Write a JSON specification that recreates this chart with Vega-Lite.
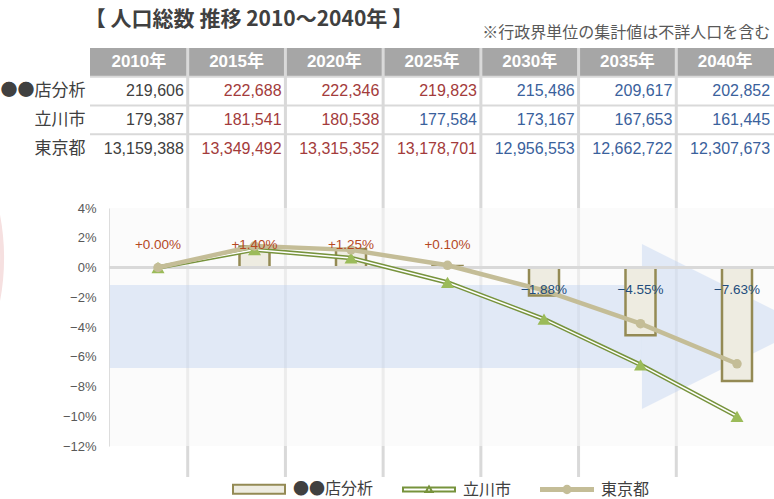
{
  "$schema": "https://vega.github.io/schema/vega-lite/v6.json",
  "width": 774,
  "height": 499,
  "autosize": {"type": "none"},
  "padding": 0,
  "background": "white",
  "config": {"view": {"stroke": null}, "font": "Noto Sans CJK JP"},
  "datasets": {
    "pop": [
      {"series": "●●店分析", "year": 2010, "pop": 219606, "pct": 0},
      {"series": "●●店分析", "year": 2015, "pop": 222688, "pct": 0.014034},
      {"series": "●●店分析", "year": 2020, "pop": 222346, "pct": 0.012477},
      {"series": "●●店分析", "year": 2025, "pop": 219823, "pct": 0.000988},
      {"series": "●●店分析", "year": 2030, "pop": 215486, "pct": -0.018761},
      {"series": "●●店分析", "year": 2035, "pop": 209617, "pct": -0.045486},
      {"series": "●●店分析", "year": 2040, "pop": 202852, "pct": -0.076291},
      {"series": "立川市", "year": 2010, "pop": 179387, "pct": 0},
      {"series": "立川市", "year": 2015, "pop": 181541, "pct": 0.012008},
      {"series": "立川市", "year": 2020, "pop": 180538, "pct": 0.006416},
      {"series": "立川市", "year": 2025, "pop": 177584, "pct": -0.010051},
      {"series": "立川市", "year": 2030, "pop": 173167, "pct": -0.034674},
      {"series": "立川市", "year": 2035, "pop": 167653, "pct": -0.065412},
      {"series": "立川市", "year": 2040, "pop": 161445, "pct": -0.100018},
      {"series": "東京都", "year": 2010, "pop": 13159388, "pct": 0},
      {"series": "東京都", "year": 2015, "pop": 13349492, "pct": 0.014446},
      {"series": "東京都", "year": 2020, "pop": 13315352, "pct": 0.011852},
      {"series": "東京都", "year": 2025, "pop": 13178701, "pct": 0.001468},
      {"series": "東京都", "year": 2030, "pop": 12956553, "pct": -0.015414},
      {"series": "東京都", "year": 2035, "pop": 12662722, "pct": -0.037743},
      {"series": "東京都", "year": 2040, "pop": 12307673, "pct": -0.064723}
    ],
    "header": [
      {"year": 2010, "label": "2010年"},
      {"year": 2015, "label": "2015年"},
      {"year": 2020, "label": "2020年"},
      {"year": 2025, "label": "2025年"},
      {"year": 2030, "label": "2030年"},
      {"year": 2035, "label": "2035年"},
      {"year": 2040, "label": "2040年"}
    ],
    "titles": [
      {"title": "【 人口総数 推移 2010〜2040年 】", "note": "※行政界単位の集計値は不詳人口を含む"}
    ]
  },
  "layer": [
    {
      "layer": [
        {
          "data": {"name": "header"},
          "mark": {"type": "rect", "fill": "#a6a6a6"},
          "encoding": {
            "x": {"field": "year", "type": "ordinal", "scale": {"domain": [2010, 2015, 2020, 2025, 2030, 2035, 2040], "range": [90, 774], "paddingInner": 0, "paddingOuter": 0}, "axis": null},
            "y": {"datum": "header", "type": "nominal", "scale": {"domain": ["header", "●●店分析", "立川市", "東京都"], "range": [48, 163], "paddingInner": 0, "paddingOuter": 0},
              "axis": {"orient": "left", "offset": -90, "labelPadding": 5, "domain": false, "ticks": false, "grid": false, "title": null, "labelFont": "Noto Sans CJK JP", "labelFontSize": 17, "labelColor": "#404040", "labelExpr": "datum.value == 'header' ? '' : datum.value"}}
          }
        },
        {
          "data": {"name": "header"},
          "mark": {"type": "text", "color": "white", "fontWeight": "bold", "fontSize": 17, "font": "Liberation Sans, Noto Sans CJK JP", "baseline": "middle"},
          "encoding": {
            "x": {"field": "year", "type": "ordinal", "scale": {"domain": [2010, 2015, 2020, 2025, 2030, 2035, 2040], "range": [90, 774], "paddingInner": 0, "paddingOuter": 0}, "axis": null},
            "y": {"datum": "header", "type": "nominal", "scale": {"domain": ["header", "●●店分析", "立川市", "東京都"], "range": [48, 163], "paddingInner": 0, "paddingOuter": 0},
              "axis": {"orient": "left", "offset": -90, "labelPadding": 5, "domain": false, "ticks": false, "grid": false, "title": null, "labelFont": "Noto Sans CJK JP", "labelFontSize": 17, "labelColor": "#404040", "labelExpr": "datum.value == 'header' ? '' : datum.value"}},
            "text": {"field": "label"}
          }
        },
        {
          "data": {"name": "pop"},
          "mark": {"type": "text", "align": "right", "dx": 45, "fontSize": 16, "font": "Liberation Sans", "baseline": "middle"},
          "encoding": {
            "x": {"field": "year", "type": "ordinal", "scale": {"domain": [2010, 2015, 2020, 2025, 2030, 2035, 2040], "range": [90, 774], "paddingInner": 0, "paddingOuter": 0}, "axis": null},
            "y": {"field": "series", "type": "nominal", "scale": {"domain": ["header", "●●店分析", "立川市", "東京都"], "range": [48, 163], "paddingInner": 0, "paddingOuter": 0},
              "axis": {"orient": "left", "offset": -90, "labelPadding": 5, "domain": false, "ticks": false, "grid": false, "title": null, "labelFont": "Noto Sans CJK JP", "labelFontSize": 17, "labelColor": "#404040", "labelExpr": "datum.value == 'header' ? '' : datum.value"}},
            "text": {"field": "pop", "format": ",d"},
            "color": {"condition": [{"test": "datum.pct > 0", "value": "#a33b3b"}, {"test": "datum.pct < 0", "value": "#3a619c"}], "value": "#404040"}
          }
        },
        {
          "data": {"name": "titles"},
          "mark": {"type": "text", "align": "left", "dx": -54, "dy": -42, "fontSize": 21, "fontWeight": "bold", "color": "#404040", "font": "Noto Sans CJK JP", "baseline": "middle"},
          "encoding": {
            "x": {"datum": 2010, "type": "ordinal", "scale": {"domain": [2010, 2015, 2020, 2025, 2030, 2035, 2040], "range": [90, 774], "paddingInner": 0, "paddingOuter": 0}, "axis": null},
            "y": {"datum": "header", "type": "nominal", "scale": {"domain": ["header", "●●店分析", "立川市", "東京都"], "range": [48, 163], "paddingInner": 0, "paddingOuter": 0},
              "axis": {"orient": "left", "offset": -90, "labelPadding": 5, "domain": false, "ticks": false, "grid": false, "title": null, "labelFont": "Noto Sans CJK JP", "labelFontSize": 17, "labelColor": "#404040", "labelExpr": "datum.value == 'header' ? '' : datum.value"}},
            "text": {"field": "title"}
          }
        },
        {
          "data": {"name": "titles"},
          "mark": {"type": "text", "align": "right", "dx": 45, "dy": -29, "fontSize": 16, "color": "#595959", "font": "Noto Sans CJK JP", "baseline": "middle"},
          "encoding": {
            "x": {"datum": 2040, "type": "ordinal", "scale": {"domain": [2010, 2015, 2020, 2025, 2030, 2035, 2040], "range": [90, 774], "paddingInner": 0, "paddingOuter": 0}, "axis": null},
            "y": {"datum": "header", "type": "nominal", "scale": {"domain": ["header", "●●店分析", "立川市", "東京都"], "range": [48, 163], "paddingInner": 0, "paddingOuter": 0},
              "axis": {"orient": "left", "offset": -90, "labelPadding": 5, "domain": false, "ticks": false, "grid": false, "title": null, "labelFont": "Noto Sans CJK JP", "labelFontSize": 17, "labelColor": "#404040", "labelExpr": "datum.value == 'header' ? '' : datum.value"}},
            "text": {"field": "note"}
          }
        }
      ]
    },
    {
      "layer": [
        {
          "data": {"name": "header"},
          "transform": [{"filter": "datum.year > 2010"}],
          "mark": {"type": "rule", "color": "#d9d9d9", "strokeWidth": 3},
          "encoding": {
            "x": {"field": "year", "type": "quantitative", "scale": {"domain": [2010, 2045], "range": [90, 774], "nice": false, "zero": false, "padding": 0}, "axis": null},
            "y": {"datum": 0, "type": "quantitative", "scale": {"domain": [0, 4], "range": [48, 163], "nice": false, "zero": false, "padding": 0}, "axis": null},
            "y2": {"datum": 14.92}
          }
        },
        {
          "data": {"values": [{}]},
          "mark": {"type": "rule", "color": "#d9d9d9", "strokeWidth": 2},
          "encoding": {
            "x": {"datum": 2010, "type": "quantitative", "scale": {"domain": [2010, 2045], "range": [90, 774], "nice": false, "zero": false, "padding": 0}, "axis": null},
            "x2": {"datum": 2045},
            "y": {"datum": 1, "type": "quantitative", "scale": {"domain": [0, 4], "range": [48, 163], "nice": false, "zero": false, "padding": 0}, "axis": null}
          }
        },
        {
          "data": {"values": [{}]},
          "mark": {"type": "rule", "color": "#d9d9d9", "strokeWidth": 2},
          "encoding": {
            "x": {"datum": 2010, "type": "quantitative", "scale": {"domain": [2010, 2045], "range": [90, 774], "nice": false, "zero": false, "padding": 0}, "axis": null},
            "x2": {"datum": 2045},
            "y": {"datum": 2, "type": "quantitative", "scale": {"domain": [0, 4], "range": [48, 163], "nice": false, "zero": false, "padding": 0}, "axis": null}
          }
        },
        {
          "data": {"values": [{}]},
          "mark": {"type": "rule", "color": "#d9d9d9", "strokeWidth": 2},
          "encoding": {
            "x": {"datum": 2010, "type": "quantitative", "scale": {"domain": [2010, 2045], "range": [90, 774], "nice": false, "zero": false, "padding": 0}, "axis": null},
            "x2": {"datum": 2045},
            "y": {"datum": 3, "type": "quantitative", "scale": {"domain": [0, 4], "range": [48, 163], "nice": false, "zero": false, "padding": 0}, "axis": null}
          }
        }
      ]
    },
    {
      "layer": [
        {
          "data": {"values": [{}]},
          "mark": {"type": "point", "shape": "circle", "size": 206116, "filled": false, "stroke": "#f6e0e0", "strokeWidth": 4, "opacity": 1},
          "encoding": {
            "x": {"datum": 1990.16, "type": "quantitative", "scale": {"domain": [2010, 2040], "range": [158, 737], "nice": false, "zero": false, "padding": 0}, "axis": null},
            "y": {"datum": 0.0064, "type": "quantitative", "scale": {"domain": [-0.12, 0.04], "range": [446, 208], "nice": false, "zero": false, "padding": 0},
              "axis": {"orient": "left", "offset": -109, "values": [-0.12, -0.1, -0.08, -0.06, -0.04, -0.02, 0, 0.02, 0.04], "format": ".0%", "ticks": false, "grid": false, "domain": true, "domainColor": "#d9d9d9", "domainWidth": 1, "labelPadding": 13, "labelFont": "Liberation Sans", "labelFontSize": 13, "labelColor": "#595959", "title": null}}
          }
        },
        {
          "data": {"values": [{}]},
          "mark": {"type": "rect", "fill": "#f8f8f8", "opacity": 0.6},
          "encoding": {
            "x": {"datum": 2007.5, "type": "quantitative", "scale": {"domain": [2010, 2040], "range": [158, 737], "nice": false, "zero": false, "padding": 0}, "axis": null},
            "x2": {"datum": 2045},
            "y": {"datum": 0.04, "type": "quantitative", "scale": {"domain": [-0.12, 0.04], "range": [446, 208], "nice": false, "zero": false, "padding": 0},
              "axis": {"orient": "left", "offset": -109, "values": [-0.12, -0.1, -0.08, -0.06, -0.04, -0.02, 0, 0.02, 0.04], "format": ".0%", "ticks": false, "grid": false, "domain": true, "domainColor": "#d9d9d9", "domainWidth": 1, "labelPadding": 13, "labelFont": "Liberation Sans", "labelFontSize": 13, "labelColor": "#595959", "title": null}},
            "y2": {"datum": -0.12}
          }
        },
        {
          "data": {"values": [{}]},
          "mark": {"type": "rect", "fill": "#bccff0", "opacity": 0.4},
          "encoding": {
            "x": {"datum": 2007.5, "type": "quantitative", "scale": {"domain": [2010, 2040], "range": [158, 737], "nice": false, "zero": false, "padding": 0}, "axis": null},
            "x2": {"datum": 2035.08},
            "y": {"datum": -0.0118, "type": "quantitative", "scale": {"domain": [-0.12, 0.04], "range": [446, 208], "nice": false, "zero": false, "padding": 0},
              "axis": {"orient": "left", "offset": -109, "values": [-0.12, -0.1, -0.08, -0.06, -0.04, -0.02, 0, 0.02, 0.04], "format": ".0%", "ticks": false, "grid": false, "domain": true, "domainColor": "#d9d9d9", "domainWidth": 1, "labelPadding": 13, "labelFont": "Liberation Sans", "labelFontSize": 13, "labelColor": "#595959", "title": null}},
            "y2": {"datum": -0.0676}
          }
        },
        {
          "data": {"values": [{}]},
          "mark": {"type": "point", "shape": "M-1,-1L1,0L-1,1Z", "size": 27225, "filled": true, "fill": "#bccff0", "opacity": 0.4, "strokeWidth": 0},
          "encoding": {
            "x": {"datum": 2039.35, "type": "quantitative", "scale": {"domain": [2010, 2040], "range": [158, 737], "nice": false, "zero": false, "padding": 0}, "axis": null},
            "y": {"datum": -0.0397, "type": "quantitative", "scale": {"domain": [-0.12, 0.04], "range": [446, 208], "nice": false, "zero": false, "padding": 0},
              "axis": {"orient": "left", "offset": -109, "values": [-0.12, -0.1, -0.08, -0.06, -0.04, -0.02, 0, 0.02, 0.04], "format": ".0%", "ticks": false, "grid": false, "domain": true, "domainColor": "#d9d9d9", "domainWidth": 1, "labelPadding": 13, "labelFont": "Liberation Sans", "labelFontSize": 13, "labelColor": "#595959", "title": null}}
          }
        },
        {
          "data": {"name": "pop"},
          "transform": [{"filter": "datum.series == '●●店分析'"}],
          "mark": {"type": "bar", "width": 30, "fill": "#eeece1", "stroke": "#948a54", "strokeWidth": 2.5},
          "encoding": {
            "x": {"field": "year", "type": "quantitative", "scale": {"domain": [2010, 2040], "range": [158, 737], "nice": false, "zero": false, "padding": 0}, "axis": null},
            "y": {"field": "pct", "type": "quantitative", "scale": {"domain": [-0.12, 0.04], "range": [446, 208], "nice": false, "zero": false, "padding": 0},
              "axis": {"orient": "left", "offset": -109, "values": [-0.12, -0.1, -0.08, -0.06, -0.04, -0.02, 0, 0.02, 0.04], "format": ".0%", "ticks": false, "grid": false, "domain": true, "domainColor": "#d9d9d9", "domainWidth": 1, "labelPadding": 13, "labelFont": "Liberation Sans", "labelFontSize": 13, "labelColor": "#595959", "title": null}},
            "y2": {"datum": 0}
          }
        },
        {
          "data": {"values": [{}]},
          "mark": {"type": "rule", "color": "#d9d9d9", "strokeWidth": 3},
          "encoding": {
            "x": {"datum": 2007.46, "type": "quantitative", "scale": {"domain": [2010, 2040], "range": [158, 737], "nice": false, "zero": false, "padding": 0}, "axis": null},
            "x2": {"datum": 2045},
            "y": {"datum": 0, "type": "quantitative", "scale": {"domain": [-0.12, 0.04], "range": [446, 208], "nice": false, "zero": false, "padding": 0},
              "axis": {"orient": "left", "offset": -109, "values": [-0.12, -0.1, -0.08, -0.06, -0.04, -0.02, 0, 0.02, 0.04], "format": ".0%", "ticks": false, "grid": false, "domain": true, "domainColor": "#d9d9d9", "domainWidth": 1, "labelPadding": 13, "labelFont": "Liberation Sans", "labelFontSize": 13, "labelColor": "#595959", "title": null}}
          }
        },
        {
          "data": {"name": "pop"},
          "transform": [{"filter": "datum.series == '立川市'"}],
          "mark": {"type": "line", "color": "#77933c", "strokeWidth": 4.5},
          "encoding": {
            "x": {"field": "year", "type": "quantitative", "scale": {"domain": [2010, 2040], "range": [158, 737], "nice": false, "zero": false, "padding": 0}, "axis": null},
            "y": {"field": "pct", "type": "quantitative", "scale": {"domain": [-0.12, 0.04], "range": [446, 208], "nice": false, "zero": false, "padding": 0},
              "axis": {"orient": "left", "offset": -109, "values": [-0.12, -0.1, -0.08, -0.06, -0.04, -0.02, 0, 0.02, 0.04], "format": ".0%", "ticks": false, "grid": false, "domain": true, "domainColor": "#d9d9d9", "domainWidth": 1, "labelPadding": 13, "labelFont": "Liberation Sans", "labelFontSize": 13, "labelColor": "#595959", "title": null}}
          }
        },
        {
          "data": {"name": "pop"},
          "transform": [{"filter": "datum.series == '立川市'"}],
          "mark": {"type": "line", "color": "#ffffff", "strokeWidth": 1.5},
          "encoding": {
            "x": {"field": "year", "type": "quantitative", "scale": {"domain": [2010, 2040], "range": [158, 737], "nice": false, "zero": false, "padding": 0}, "axis": null},
            "y": {"field": "pct", "type": "quantitative", "scale": {"domain": [-0.12, 0.04], "range": [446, 208], "nice": false, "zero": false, "padding": 0},
              "axis": {"orient": "left", "offset": -109, "values": [-0.12, -0.1, -0.08, -0.06, -0.04, -0.02, 0, 0.02, 0.04], "format": ".0%", "ticks": false, "grid": false, "domain": true, "domainColor": "#d9d9d9", "domainWidth": 1, "labelPadding": 13, "labelFont": "Liberation Sans", "labelFontSize": 13, "labelColor": "#595959", "title": null}}
          }
        },
        {
          "data": {"name": "pop"},
          "transform": [{"filter": "datum.series == '立川市'"}],
          "mark": {"type": "point", "shape": "triangle-up", "size": 169, "filled": true, "fill": "#9bbb59", "opacity": 1, "strokeWidth": 0},
          "encoding": {
            "x": {"field": "year", "type": "quantitative", "scale": {"domain": [2010, 2040], "range": [158, 737], "nice": false, "zero": false, "padding": 0}, "axis": null},
            "y": {"field": "pct", "type": "quantitative", "scale": {"domain": [-0.12, 0.04], "range": [446, 208], "nice": false, "zero": false, "padding": 0},
              "axis": {"orient": "left", "offset": -109, "values": [-0.12, -0.1, -0.08, -0.06, -0.04, -0.02, 0, 0.02, 0.04], "format": ".0%", "ticks": false, "grid": false, "domain": true, "domainColor": "#d9d9d9", "domainWidth": 1, "labelPadding": 13, "labelFont": "Liberation Sans", "labelFontSize": 13, "labelColor": "#595959", "title": null}}
          }
        },
        {
          "data": {"name": "pop"},
          "transform": [{"filter": "datum.series == '東京都'"}],
          "mark": {"type": "line", "color": "#c4bd97", "strokeWidth": 4.5},
          "encoding": {
            "x": {"field": "year", "type": "quantitative", "scale": {"domain": [2010, 2040], "range": [158, 737], "nice": false, "zero": false, "padding": 0}, "axis": null},
            "y": {"field": "pct", "type": "quantitative", "scale": {"domain": [-0.12, 0.04], "range": [446, 208], "nice": false, "zero": false, "padding": 0},
              "axis": {"orient": "left", "offset": -109, "values": [-0.12, -0.1, -0.08, -0.06, -0.04, -0.02, 0, 0.02, 0.04], "format": ".0%", "ticks": false, "grid": false, "domain": true, "domainColor": "#d9d9d9", "domainWidth": 1, "labelPadding": 13, "labelFont": "Liberation Sans", "labelFontSize": 13, "labelColor": "#595959", "title": null}}
          }
        },
        {
          "data": {"name": "pop"},
          "transform": [{"filter": "datum.series == '東京都'"}],
          "mark": {"type": "point", "shape": "circle", "size": 90, "filled": true, "fill": "#c4bd97", "opacity": 1, "strokeWidth": 0},
          "encoding": {
            "x": {"field": "year", "type": "quantitative", "scale": {"domain": [2010, 2040], "range": [158, 737], "nice": false, "zero": false, "padding": 0}, "axis": null},
            "y": {"field": "pct", "type": "quantitative", "scale": {"domain": [-0.12, 0.04], "range": [446, 208], "nice": false, "zero": false, "padding": 0},
              "axis": {"orient": "left", "offset": -109, "values": [-0.12, -0.1, -0.08, -0.06, -0.04, -0.02, 0, 0.02, 0.04], "format": ".0%", "ticks": false, "grid": false, "domain": true, "domainColor": "#d9d9d9", "domainWidth": 1, "labelPadding": 13, "labelFont": "Liberation Sans", "labelFontSize": 13, "labelColor": "#595959", "title": null}}
          }
        },
        {
          "data": {"name": "pop"},
          "transform": [{"filter": "datum.series == '●●店分析' && datum.pct >= 0"}],
          "mark": {"type": "text", "color": "#b5491f", "fontSize": 13.5, "font": "Liberation Sans", "baseline": "middle"},
          "encoding": {
            "x": {"field": "year", "type": "quantitative", "scale": {"domain": [2010, 2040], "range": [158, 737], "nice": false, "zero": false, "padding": 0}, "axis": null},
            "y": {"datum": 0.015, "type": "quantitative", "scale": {"domain": [-0.12, 0.04], "range": [446, 208], "nice": false, "zero": false, "padding": 0},
              "axis": {"orient": "left", "offset": -109, "values": [-0.12, -0.1, -0.08, -0.06, -0.04, -0.02, 0, 0.02, 0.04], "format": ".0%", "ticks": false, "grid": false, "domain": true, "domainColor": "#d9d9d9", "domainWidth": 1, "labelPadding": 13, "labelFont": "Liberation Sans", "labelFontSize": 13, "labelColor": "#595959", "title": null}},
            "text": {"field": "pct", "format": "+.2%"}
          }
        },
        {
          "data": {"name": "pop"},
          "transform": [{"filter": "datum.series == '●●店分析' && datum.pct < 0"}],
          "mark": {"type": "text", "color": "#234d7c", "fontSize": 13.5, "font": "Liberation Sans", "baseline": "middle"},
          "encoding": {
            "x": {"field": "year", "type": "quantitative", "scale": {"domain": [2010, 2040], "range": [158, 737], "nice": false, "zero": false, "padding": 0}, "axis": null},
            "y": {"datum": -0.0152, "type": "quantitative", "scale": {"domain": [-0.12, 0.04], "range": [446, 208], "nice": false, "zero": false, "padding": 0},
              "axis": {"orient": "left", "offset": -109, "values": [-0.12, -0.1, -0.08, -0.06, -0.04, -0.02, 0, 0.02, 0.04], "format": ".0%", "ticks": false, "grid": false, "domain": true, "domainColor": "#d9d9d9", "domainWidth": 1, "labelPadding": 13, "labelFont": "Liberation Sans", "labelFontSize": 13, "labelColor": "#595959", "title": null}},
            "text": {"field": "pct", "format": "+.2%"}
          }
        },
        {
          "data": {"name": "pop"},
          "transform": [{"filter": "false"}],
          "mark": {"type": "point", "filled": true, "opacity": 1, "strokeWidth": 2},
          "encoding": {
            "fill": {"field": "series", "type": "nominal", "scale": {"domain": ["●●店分析", "立川市", "東京都"], "range": ["#eeece1", "#ffffff", "#c4bd97"]},
              "legend": {"title": null, "orient": "none", "legendX": 232, "legendY": 462, "direction": "horizontal", "symbolSize": 2704, "symbolStrokeWidth": 2, "labelFontSize": 16, "labelFont": "Noto Sans CJK JP", "labelColor": "#404040", "labelOffset": 7, "columnPadding": 25, "padding": 0, "symbolOpacity": 1}},
            "stroke": {"field": "series", "type": "nominal", "scale": {"domain": ["●●店分析", "立川市", "東京都"], "range": ["#948a54", "#77933c", "#c4bd97"]},
              "legend": {"title": null, "orient": "none", "legendX": 232, "legendY": 462, "direction": "horizontal", "symbolSize": 2704, "symbolStrokeWidth": 2, "labelFontSize": 16, "labelFont": "Noto Sans CJK JP", "labelColor": "#404040", "labelOffset": 7, "columnPadding": 25, "padding": 0, "symbolOpacity": 1}},
            "shape": {"field": "series", "type": "nominal", "scale": {"domain": ["●●店分析", "立川市", "東京都"], "range": ["M-1,-0.17H1V0.17H-1Z", "M-1,-0.08H1V0.08H-1Z M-0.13,0.1L0,-0.12L0.13,0.1Z", "M-1,-0.06H1V0.06H-1Z M0.14,0A0.14,0.14 0 1 1 -0.14,0A0.14,0.14 0 1 1 0.14,0Z"]},
              "legend": {"title": null, "orient": "none", "legendX": 232, "legendY": 462, "direction": "horizontal", "symbolSize": 2704, "symbolStrokeWidth": 2, "labelFontSize": 16, "labelFont": "Noto Sans CJK JP", "labelColor": "#404040", "labelOffset": 7, "columnPadding": 25, "padding": 0, "symbolOpacity": 1}}
          }
        }
      ]
    }
  ],
  "resolve": {"scale": {"x": "independent", "y": "independent"}, "axis": {"x": "independent", "y": "independent"}}
}
